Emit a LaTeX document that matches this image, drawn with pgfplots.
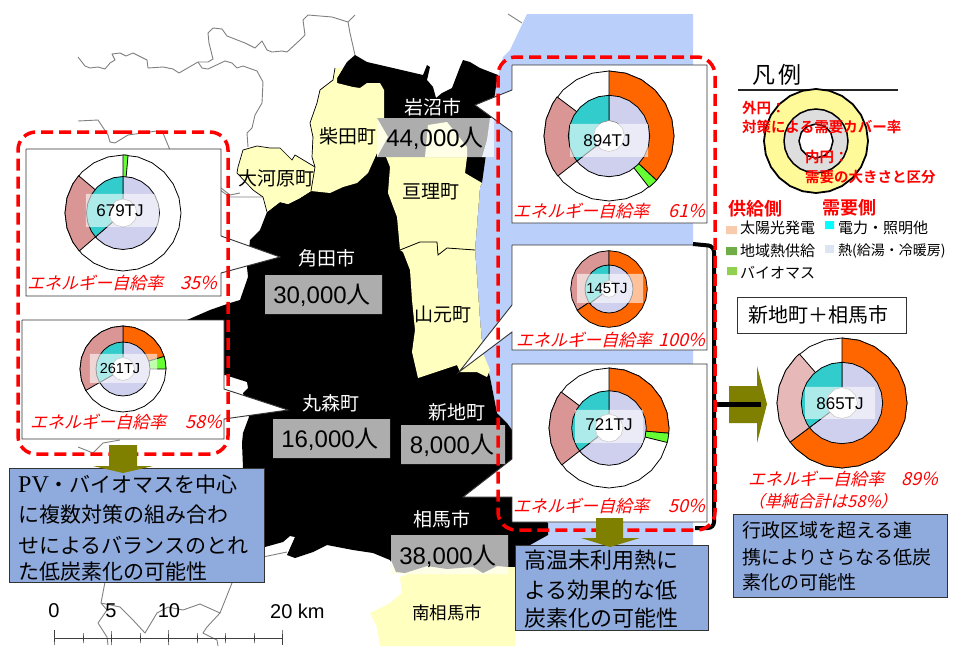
\documentclass[border=0pt]{standalone}
\usepackage{fontspec}
\usepackage{xcolor}
\usepackage{pgfplots}
\pgfplotsset{compat=1.18}
\setmainfont{Liberation Sans}
\newfontfamily\jp{Noto Sans CJK JP}
\newfontfamily\jpb{Noto Sans CJK JP Bold}
\newfontfamily\jpi[FakeSlant=0.25]{Noto Sans CJK JP}
\newfontfamily\pv{Liberation Serif}
\XeTeXlinebreaklocale "ja"
\XeTeXlinebreakskip=0pt plus 8pt minus 3pt
\newcommand{\fs}[1]{\fontsize{#1pt}{#1pt}\selectfont}
\newcommand{\fit}[2]{\makebox[#1pt][s]{#2}}
% red self-sufficiency caption: slanted kana part, then the percent
\newcommand{\rate}[3]{\textcolor{red}{\makebox[#1pt][l]{\jpi\fs{17}\fit{#2}{エネルギー自給率}\hfill\itshape\fs{18}#3}}}
\definecolor{sea}{HTML}{BBCFFB}
\definecolor{land}{HTML}{FFFFC0}
\definecolor{pale}{HTML}{FFFFE8}
\definecolor{tag}{HTML}{ADADAD}
\definecolor{note}{HTML}{8FAADC}
\definecolor{olive2}{HTML}{808000}
\definecolor{border}{HTML}{808080}
\definecolor{cOrange}{HTML}{FF6600}
\definecolor{cGreen}{HTML}{66FF33}
\definecolor{cPink}{HTML}{D99694}
\definecolor{cPink2}{HTML}{E6B9B8}
\definecolor{cTeal}{HTML}{33CCCC}
\definecolor{cLav}{HTML}{CFCFEE}
\definecolor{keySolar}{HTML}{F8CBAD}
\definecolor{keyDistrict}{HTML}{70AD47}
\definecolor{keyBio}{HTML}{92D050}
\definecolor{keyPower}{HTML}{00FFFF}
\definecolor{keyHeat}{HTML}{DCE6F2}
\pgfplotsset{
  scene/.style={at={(0pt,0pt)},anchor=south west,x=1pt,y=1pt,xmin=0,xmax=954,ymin=0,ymax=646,
    y dir=reverse,hide axis,clip=true},
  donut/.style n args={3}{at={(#1pt,{646pt-#2pt})},anchor=center,x=1pt,y=1pt,
    xmin=-#3,xmax=#3,ymin=-#3,ymax=#3,hide axis,clip=false},
  seg/.style={data cs=polar,fill=#1,draw=black,line width=0.8pt,line join=round},
  veil/.style={fill=white,fill opacity=0.6,draw=none},
  hole/.style={data cs=polar,fill=white,draw=gray,line width=0.6pt},
  shape/.style={fill=#1,draw=none},
  frame/.style={fill=#1,draw=black!80,line width=0.9pt,line join=miter},
  gline/.style={draw=border,line width=0.9pt,line join=round},
}
\begin{document}
\begin{tikzpicture}
\path[use as bounding box] (0pt,0pt) rectangle (954pt,646pt);
\begin{axis}[scene]
% thin gray boundaries outside the study area
\addplot[gline] coordinates {(78,57)(85,66)(90,68)(98,67)(105,69)(110,63)(115,60)(112,54)(120,53)(126,56)(133,53)(147,60)(148,68)(163,67)(173,69)(179,73)(198,62)(208,62)(213,59)(209,43)(208,33)(213,28)(222,29)(227,36)(245,43)(255,48)(262,41)(267,50)(272,52)(282,51)(287,52)(300,40)(305,35)(303,20)(308,15)(332,17)(348,22)(355,15)};
\addplot[gline] coordinates {(348,22)(350,33)(355,55)};
\addplot[gline] coordinates {(198,62)(202,68)(208,69)(225,61)(232,63)(237,68)(243,66)(257,71)(263,82)(262,103)(255,115)(252,128)(247,133)(248,147)};
\addplot[gline] coordinates {(78,121)(98,120)(108,135)(110,142)(115,143)(128,135)(157,131)(163,133)(170,150)};
\addplot[gline] coordinates {(508,14)(522,23)};
\addplot[gline] coordinates {(221,188)(230,195)(240,193)};
\addplot[gline] coordinates {(220,190)(230,197)(250,197)(263,197)};
\addplot[gline] coordinates {(78,447)(93,453)(103,443)(120,440)};
\addplot[gline] coordinates {(263,557)(287,552)};
\addplot[gline] coordinates {(105,582)(101,603)(107,610)(98,623)(107,637)(108,645)};
\addplot[gline] coordinates {(101,603)(120,607)(133,620)(145,633)(157,613)(168,607)(183,610)(200,604)(220,613)(232,583)};
\addplot[gline] coordinates {(220,613)(207,627)(203,633)(217,640)(218,646)};
% sea
\addplot[shape=sea] coordinates {(527,14)(693,14)(693,628)(510,628)(507,423)(497,413)(490,377)(483,353)(480,320)(475,250)(480,187)(487,147)(497,80)(503,57)(510,50)(527,14)};
% black municipalities
\addplot[shape=black] coordinates {(355,55)(367,62)(393,68)(423,75)(427,65)(430,67)(427,80)(433,87)(436,98)(442,93)(452,88)(460,67)(463,60)(470,62)(480,68)(498,75)(497,80)(487,147)(482,183)(480,187)(475,250)(480,320)(483,353)(490,377)(497,413)(507,423)(512,430)(512,497)(548,523)(548,535)(530,545)(515,567)(427,567)(410,573)(397,573)(390,560)(373,553)(353,550)(327,545)(313,552)(295,558)(287,555)(295,537)(290,536)(283,542)(265,547)(243,547)(243,468)(242,443)(243,433)(249,417)(243,393)(248,388)(247,382)(225,375)(187,380)(187,320)(210,310)(230,303)(240,300)(248,277)(247,267)(250,240)(260,230)(267,212)(280,202)(288,204)(300,198)(311,191)(315,167)(312,157)(313,137)(310,123)(317,103)(320,90)(333,80)(337,78)(347,62)(355,55)};
% yellow municipalities
\addplot[shape=land] coordinates {(335,68)(343,68)(337,78)(337,83)(353,87)(360,88)(367,83)(380,83)(384,90)(384,117)(386,137)(377,153)(368,173)(357,183)(343,187)(330,193)(311,191)(315,167)(312,157)(313,137)(310,123)(317,103)(320,90)(333,80)(335,68)};
\addplot[shape=land] coordinates {(238,167)(243,150)(257,146)(270,148)(280,148)(292,160)(295,155)(315,167)(311,191)(300,198)(288,204)(280,202)(267,212)(263,197)(253,190)(237,173)(238,167)};
\addplot[draw=black,line width=0.7pt] coordinates {(315,167)(295,155)(292,160)(280,148)(270,148)(257,146)(243,150)(238,167)(237,173)(253,190)(263,197)(267,212)};
\addplot[draw=black,line width=0.7pt] coordinates {(335,68)(333,80)(320,90)(317,103)(310,123)(313,137)(312,157)(315,167)(311,191)};
\addplot[shape=land] coordinates {(386,157)(390,167)(388,193)(397,217)(400,250)(420,242)(437,242)(438,255)(447,248)(475,250)(480,187)(482,183)(465,173)(467,157)(386,157)};
\addplot[shape=land] coordinates {(400,250)(420,242)(437,242)(438,255)(447,248)(475,250)(480,320)(483,353)(490,370)(487,377)(477,372)(460,372)(457,365)(418,378)(412,352)(415,330)(412,300)(410,270)(403,252)(400,250)};
\addplot[draw=black,line width=0.8pt] coordinates {(400,250)(420,242)(437,242)(438,255)(447,248)(475,250)};
\addplot[shape=land] coordinates {(400,577)(427,567)(447,570)(473,568)(483,573)(497,567)(515,567)(515,646)(380,646)(377,627)(370,613)(390,603)(402,593)(400,577)};
% population tags
\addplot[shape=tag] coordinates {(377,118)(494,118)(494,157)(377,157)(377,118)};
\addplot[shape=pale] coordinates {(377,118)(388,137)(377,157)(377,118)};
\addplot[shape=pale] coordinates {(425,157)(427,135)(428,125)(447,122)(467,147)(467,157)(425,157)};
\addplot[shape=sea!30!white] coordinates {(490,118)(494,118)(494,157)(482,157)(487,140)(490,118)};
\addplot[shape=tag] coordinates {(265,275)(382,275)(382,314)(265,314)(265,275)};
\addplot[shape=tag] coordinates {(273,419)(390,419)(390,458)(273,458)(273,419)};
\addplot[shape=tag] coordinates {(401,425)(505,425)(505,464)(401,464)(401,425)};
\addplot[shape=pale] coordinates {(391,560)(508,560)(508,574)(391,574)(391,560)};
\addplot[shape=tag] coordinates {(391,535)(508,535)(508,567)(497,566)(483,573)(473,567)(447,569)(427,566)(405,573)(396,572)(391,560)(391,535)};
% town names
\node[text=white] at (433,107) {\jp\fs{19}岩沼市};
\node at (348,136) {\jp\fs{19}柴田町};
\node at (276,178) {\jp\fs{19}大河原町};
\node at (431,192) {\jp\fs{19}亘理町};
\node[text=white] at (327,258) {\jp\fs{19}角田市};
\node at (443,314) {\jp\fs{19}山元町};
\node[text=white] at (331,403) {\jp\fs{19}丸森町};
\node[text=white] at (457,412) {\jp\fs{19}新地町};
\node[text=white] at (442,519) {\jp\fs{19}相馬市};
\node at (447,613) {\jp\fs{17.5}南相馬市};
\node at (435,138) {\fs{24}44,000{\jp\fs{24}人}};
\node at (322,295) {\fs{24}30,000{\jp\fs{24}人}};
\node at (330,439) {\fs{24}16,000{\jp\fs{24}人}};
\node at (452,445) {\fs{24}8,000{\jp\fs{24}人}};
\node at (448,556) {\fs{24}38,000{\jp\fs{24}人}};
% scale bar
\addplot[draw=black!75,line width=0.8pt] coordinates {(54,630)(54,645)(54,638)(83,638)(83,633)(83,643)(83,638)(111,638)(111,631)(111,645)(111,638)(140,638)(140,633)(140,643)(140,638)(168,638)(168,630)(168,645)(168,638)(197,638)(197,633)(197,643)(197,638)(225,638)(225,633)(225,643)(225,638)(254,638)(254,633)(254,643)(254,638)(282,638)(282,630)(282,645)};
\node at (54,611) {\fs{20}0};
\node at (111,611) {\fs{20}5};
\node at (169,611) {\fs{20}10};
\node[anchor=west,inner sep=0pt] at (270,611) {\fs{20}20 km};
% callout frames
\addplot[frame=white] coordinates {(26,149)(221,149)(221,236)(280,257)(221,273)(221,296)(26,296)(26,149)};
\addplot[frame=white] coordinates {(22,320)(224,320)(224,389)(288,410)(224,419)(224,439)(22,439)(22,320)};
\addplot[frame=white] coordinates {(512,65)(707,65)(707,223)(512,223)(512,132)(475,105)(512,90)(512,65)};
\addplot[frame=white] coordinates {(512,245)(707,245)(707,350)(512,350)(512,332)(459,372)(512,305)(512,245)};
\addplot[frame=white] coordinates {(512,364)(707,364)(707,522)(512,522)(512,497)(463,497)(512,459)(512,364)};
\node[anchor=west,inner sep=0pt] at (27,283) {\rate{190}{140}{35\%}};
\node[anchor=west,inner sep=0pt] at (30,422) {\rate{192}{140}{58\%}};
\node[anchor=west,inner sep=0pt] at (513,211) {\rate{192}{140}{61\%}};
\node[anchor=west,inner sep=0pt] at (516,340) {\rate{189}{140}{100\%}};
\node[anchor=west,inner sep=0pt] at (513,506) {\rate{192}{140}{50\%}};
% black link to the merged donut
\addplot[draw=black,line width=4pt,rounded corners=6pt] coordinates {(693,244)(714,246)(714,528)(695,528)};
\addplot[shape=olive2] coordinates {(729,386)(757,386)(757,366)(767,404)(757,443)(757,423)(729,423)(729,386)};
\addplot[draw=black,line width=5pt] coordinates {(714,404)(761,404)};
% red dashed groups
\addplot[draw=red,line width=3.5pt,rounded corners=18pt,dash pattern=on 12pt off 6pt] coordinates {(120,132)(228,132)(228,454)(18,454)(18,132)(120,132)};
\addplot[draw=red,line width=3.5pt,rounded corners=18pt,dash pattern=on 12pt off 6pt] coordinates {(600,57)(715,57)(715,530)(498,530)(498,57)(600,57)};
% blue notes
\addplot[frame=note] coordinates {(9,468)(264,468)(264,582)(9,582)(9,468)};
\addplot[frame=note] coordinates {(515,545)(708,545)(708,630)(515,630)(515,545)};
\addplot[frame=note] coordinates {(733,514)(947,514)(947,597)(733,597)(733,514)};
\addplot[shape=olive2] coordinates {(109,445)(137,445)(137,466)(153,466)(123,473)(93,466)(109,466)(109,445)};
\addplot[shape=olive2] coordinates {(596,518)(623,518)(623,538)(640,538)(610,547)(581,538)(596,538)(596,518)};
\node[anchor=west,inner sep=0pt] at (18,485) {\fs{21}\jp\fit{237}{{\pv\fs{24}PV}・バイオマスを中心}};
\node[anchor=west,inner sep=0pt] at (18,515) {\fs{21}\jp\fit{237}{に複数対策の組み合わ}};
\node[anchor=west,inner sep=0pt] at (18,545) {\fs{21}\jp\fit{237}{せによるバランスのとれ}};
\node[anchor=west,inner sep=0pt] at (18,572) {\fs{21}\jp\fit{210}{た低炭素化の可能性}};
\node[anchor=west,inner sep=0pt] at (524,560) {\fs{22}\jp\fit{178}{高温未利用熱に}};
\node[anchor=west,inner sep=0pt] at (524,590) {\fs{22}\jp\fit{178}{よる効果的な低}};
\node[anchor=west,inner sep=0pt] at (524,618) {\fs{22}\jp\fit{178}{炭素化の可能性}};
\node[anchor=west,inner sep=0pt] at (742,530) {\fs{19}\jp\fit{180}{行政区域を超える連}};
\node[anchor=west,inner sep=0pt] at (742,557) {\fs{19}\jp\fit{185}{携によりさらなる低炭}};
\node[anchor=west,inner sep=0pt] at (742,582) {\fs{19}\jp\fit{125}{素化の可能性}};
% merged-area caption and title
\addplot[frame=white] coordinates {(737,297)(906,297)(906,333)(737,333)(737,297)};
\node at (821,315) {\jp\fs{20}\fit{145}{新地町＋相馬市}};
\node[anchor=west,inner sep=0pt] at (748,479) {\rate{190}{140}{89\%}};
\node[anchor=west,inner sep=0pt] at (748,501) {\textcolor{red}{\jpi\fs{16.5}（単純合計は58\%）}};
% legend
\node at (777,75) {\jp\fs{23}\fit{50}{凡\hfill 例}};
\addplot[draw=black!85,line width=2pt] coordinates {(738,90)(898,90)};
\addplot[shape=keySolar] coordinates {(726,226)(737,226)(737,234)(726,234)(726,226)};
\addplot[shape=keyDistrict] coordinates {(726,247)(737,247)(737,255)(726,255)(726,247)};
\addplot[shape=keyBio] coordinates {(727,267)(737,267)(737,275)(727,275)(727,267)};
\addplot[shape=keyPower] coordinates {(825,221)(834,221)(834,229)(825,229)(825,221)};
\addplot[shape=keyHeat] coordinates {(825,245)(834,245)(834,253)(825,253)(825,245)};
\node[anchor=west,inner sep=0pt] at (740,228) {\jp\fs{15}\fit{78}{太陽光発電}};
\node[anchor=west,inner sep=0pt] at (740,251) {\jp\fs{15}\fit{78}{地域熱供給}};
\node[anchor=west,inner sep=0pt] at (740,273) {\jp\fs{15}\fit{71}{バイオマス}};
\node[anchor=west,inner sep=0pt] at (838,228) {\jp\fs{15}\fit{85}{電力・照明他}};
\node[anchor=west,inner sep=0pt] at (838,251) {\jp\fs{14}\makebox[115pt][l]{熱(給湯・冷暖房)}};
\end{axis}
% donut 679 TJ
\begin{axis}[donut={123}{213}{58}]
\addplot[seg=white] coordinates {(0,58)(15,58)(30,58)(45,58)(60,58)(75,58)(90,58)(105,58)(120,58)(135,58)(150,58)(165,58)(180,58)(195,58)(210,58)(225,58)(240,58)(255,58)(270,58)(285,58)(300,58)(315,58)(330,58)(345,58)(360,58)};
\addplot[seg=cGreen] coordinates {(0,0)(90,58)(85,58)(0,0)};
\addplot[seg=cPink] coordinates {(0,0)(-139,58)(-150,58)(-165,58)(-180,58)(-195,58)(-210,58)(-220,58)(0,0)};
\addplot[seg=cLav] coordinates {(0,0)(90,36.5)(75,36.5)(60,36.5)(45,36.5)(30,36.5)(15,36.5)(0,36.5)(-15,36.5)(-30,36.5)(-45,36.5)(-60,36.5)(-75,36.5)(-90,36.5)(-105,36.5)(-120,36.5)(-135,36.5)(-139,36.5)(0,0)};
\addplot[seg=cTeal] coordinates {(0,0)(-139,36.5)(-150,36.5)(-165,36.5)(-180,36.5)(-195,36.5)(-210,36.5)(-225,36.5)(-240,36.5)(-255,36.5)(-270,36.5)(0,0)};
\addplot[hole] coordinates {(0,14)(30,14)(60,14)(90,14)(120,14)(150,14)(180,14)(210,14)(240,14)(270,14)(300,14)(330,14)(360,14)};
\addplot[veil] coordinates {(-37,19)(36,19)(36,-14)(-37,-14)(-37,19)};
\node at (-3,2) {\fs{17}679TJ};
\end{axis}
% donut 261 TJ
\begin{axis}[donut={123}{369}{43}]
\addplot[seg=white] coordinates {(0,43)(15,43)(30,43)(45,43)(60,43)(75,43)(90,43)(105,43)(120,43)(135,43)(150,43)(165,43)(180,43)(195,43)(210,43)(225,43)(240,43)(255,43)(270,43)(285,43)(300,43)(315,43)(330,43)(345,43)(360,43)};
\addplot[seg=cOrange] coordinates {(0,0)(90,43)(75,43)(60,43)(45,43)(30,43)(17,43)(0,0)};
\addplot[seg=cGreen] coordinates {(0,0)(17,43)(8,43)(0,43)(0,0)};
\addplot[seg=cPink] coordinates {(0,0)(-150,43)(-165,43)(-180,43)(-195,43)(-210,43)(-225,43)(-240,43)(-255,43)(-270,43)(0,0)};
\addplot[seg=cLav] coordinates {(0,0)(90,27)(75,27)(60,27)(45,27)(30,27)(15,27)(0,27)(-15,27)(-30,27)(-45,27)(-60,27)(-75,27)(-90,27)(-105,27)(-120,27)(-135,27)(-150,27)(0,0)};
\addplot[seg=cTeal] coordinates {(0,0)(-150,27)(-165,27)(-180,27)(-195,27)(-210,27)(-225,27)(-240,27)(-255,27)(-270,27)(0,0)};
\addplot[hole] coordinates {(0,11.5)(30,11.5)(60,11.5)(90,11.5)(120,11.5)(150,11.5)(180,11.5)(210,11.5)(240,11.5)(270,11.5)(300,11.5)(330,11.5)(360,11.5)};
\addplot[veil] coordinates {(-33,15)(34,15)(34,-14)(-33,-14)(-33,15)};
\node at (-3,0) {\fs{14.5}261TJ};
\end{axis}
% donut 894 TJ
\begin{axis}[donut={609}{136}{65}]
\addplot[seg=white] coordinates {(0,65)(15,65)(30,65)(45,65)(60,65)(75,65)(90,65)(105,65)(120,65)(135,65)(150,65)(165,65)(180,65)(195,65)(210,65)(225,65)(240,65)(255,65)(270,65)(285,65)(300,65)(315,65)(330,65)(345,65)(360,65)};
\addplot[seg=cOrange] coordinates {(0,0)(90,65)(75,65)(60,65)(45,65)(30,65)(15,65)(0,65)(-15,65)(-30,65)(-43,65)(0,0)};
\addplot[seg=cGreen] coordinates {(0,0)(-43,65)(-48,65)(-52,65)(0,0)};
\addplot[seg=cPink] coordinates {(0,0)(-142,65)(-150,65)(-165,65)(-180,65)(-195,65)(-210,65)(-217,65)(0,0)};
\addplot[seg=cLav] coordinates {(0,0)(90,40.7)(75,40.7)(60,40.7)(45,40.7)(30,40.7)(15,40.7)(0,40.7)(-15,40.7)(-30,40.7)(-45,40.7)(-60,40.7)(-75,40.7)(-90,40.7)(-105,40.7)(-120,40.7)(-135,40.7)(-142,40.7)(0,0)};
\addplot[seg=cTeal] coordinates {(0,0)(-142,40.7)(-150,40.7)(-165,40.7)(-180,40.7)(-195,40.7)(-210,40.7)(-225,40.7)(-240,40.7)(-255,40.7)(-270,40.7)(0,0)};
\addplot[hole] coordinates {(0,15.5)(30,15.5)(60,15.5)(90,15.5)(120,15.5)(150,15.5)(180,15.5)(210,15.5)(240,15.5)(270,15.5)(300,15.5)(330,15.5)(360,15.5)};
\addplot[veil] coordinates {(-39,12)(39,12)(39,-21)(-39,-21)(-39,12)};
\node at (-2,-5) {\fs{17}894TJ};
\end{axis}
% donut 145 TJ
\begin{axis}[donut={609}{289}{38.3}]
\addplot[seg=cPink] coordinates {(0,0)(-146,38.3)(-165,38.3)(-180,38.3)(-195,38.3)(-210,38.3)(-225,38.3)(-240,38.3)(-255,38.3)(-270,38.3)(0,0)};
\addplot[seg=cOrange] coordinates {(0,0)(90,38.3)(75,38.3)(60,38.3)(45,38.3)(30,38.3)(15,38.3)(0,38.3)(-15,38.3)(-30,38.3)(-45,38.3)(-60,38.3)(-75,38.3)(-90,38.3)(-105,38.3)(-120,38.3)(-135,38.3)(-146,38.3)(0,0)};
\addplot[seg=cLav] coordinates {(0,0)(90,24)(75,24)(60,24)(45,24)(30,24)(15,24)(0,24)(-15,24)(-30,24)(-45,24)(-60,24)(-75,24)(-90,24)(-105,24)(-120,24)(-135,24)(-143,24)(0,0)};
\addplot[seg=cTeal] coordinates {(0,0)(-143,24)(-150,24)(-165,24)(-180,24)(-195,24)(-210,24)(-225,24)(-240,24)(-255,24)(-270,24)(0,0)};
\addplot[hole] coordinates {(0,8.3)(30,8.3)(60,8.3)(90,8.3)(120,8.3)(150,8.3)(180,8.3)(210,8.3)(240,8.3)(270,8.3)(300,8.3)(330,8.3)(360,8.3)};
\addplot[veil] coordinates {(-32,15)(34,15)(34,-14)(-32,-14)(-32,15)};
\node at (-2,1) {\fs{14.8}145TJ};
\end{axis}
% donut 721 TJ
\begin{axis}[donut={609}{428}{60}]
\addplot[seg=white] coordinates {(0,60)(15,60)(30,60)(45,60)(60,60)(75,60)(90,60)(105,60)(120,60)(135,60)(150,60)(165,60)(180,60)(195,60)(210,60)(225,60)(240,60)(255,60)(270,60)(285,60)(300,60)(315,60)(330,60)(345,60)(360,60)};
\addplot[seg=cOrange] coordinates {(0,0)(90,60)(75,60)(60,60)(45,60)(30,60)(15,60)(0,60)(-5,60)(0,0)};
\addplot[seg=cGreen] coordinates {(0,0)(-5,60)(-10,60)(-14,60)(0,0)};
\addplot[seg=cPink] coordinates {(0,0)(-142,60)(-150,60)(-165,60)(-180,60)(-195,60)(-210,60)(-217,60)(0,0)};
\addplot[seg=cLav] coordinates {(0,0)(90,37.3)(75,37.3)(60,37.3)(45,37.3)(30,37.3)(15,37.3)(0,37.3)(-15,37.3)(-30,37.3)(-45,37.3)(-60,37.3)(-75,37.3)(-90,37.3)(-105,37.3)(-120,37.3)(-135,37.3)(-142,37.3)(0,0)};
\addplot[seg=cTeal] coordinates {(0,0)(-142,37.3)(-150,37.3)(-165,37.3)(-180,37.3)(-195,37.3)(-210,37.3)(-225,37.3)(-240,37.3)(-255,37.3)(-270,37.3)(0,0)};
\addplot[hole] coordinates {(0,14)(30,14)(60,14)(90,14)(120,14)(150,14)(180,14)(210,14)(240,14)(270,14)(300,14)(330,14)(360,14)};
\addplot[veil] coordinates {(-34,18)(34,18)(34,-15)(-34,-15)(-34,18)};
\node at (0,3) {\fs{17}721TJ};
\end{axis}
% donut 865 TJ (merged)
\begin{axis}[donut={842}{403}{65}]
\addplot[seg=white] coordinates {(0,65)(15,65)(30,65)(45,65)(60,65)(75,65)(90,65)(105,65)(120,65)(135,65)(150,65)(165,65)(180,65)(195,65)(210,65)(225,65)(240,65)(255,65)(270,65)(285,65)(300,65)(315,65)(330,65)(345,65)(360,65)};
\addplot[seg=cOrange] coordinates {(0,0)(90,65)(75,65)(60,65)(45,65)(30,65)(15,65)(0,65)(-15,65)(-30,65)(-45,65)(-60,65)(-75,65)(-90,65)(-105,65)(-120,65)(-135,65)(-143,65)(0,0)};
\addplot[seg=cPink2] coordinates {(0,0)(-143,65)(-150,65)(-165,65)(-180,65)(-195,65)(-210,65)(-225,65)(-229,65)(0,0)};
\addplot[seg=cLav] coordinates {(0,0)(90,40.7)(75,40.7)(60,40.7)(45,40.7)(30,40.7)(15,40.7)(0,40.7)(-15,40.7)(-30,40.7)(-45,40.7)(-60,40.7)(-75,40.7)(-90,40.7)(-105,40.7)(-120,40.7)(-135,40.7)(-143,40.7)(0,0)};
\addplot[seg=cTeal] coordinates {(0,0)(-143,40.7)(-150,40.7)(-165,40.7)(-180,40.7)(-195,40.7)(-210,40.7)(-225,40.7)(-240,40.7)(-255,40.7)(-270,40.7)(0,0)};
\addplot[hole] coordinates {(0,15.5)(30,15.5)(60,15.5)(90,15.5)(120,15.5)(150,15.5)(180,15.5)(210,15.5)(240,15.5)(270,15.5)(300,15.5)(330,15.5)(360,15.5)};
\addplot[veil] coordinates {(-37,16)(33,16)(33,-16)(-37,-16)(-37,16)};
\node at (-2,-1) {\fs{17}865TJ};
\end{axis}
% legend donut
\begin{axis}[donut={816}{141}{52}]
\addplot[seg=yellow!40!white,line width=1.8pt] coordinates {(0,52)(15,52)(30,52)(45,52)(60,52)(75,52)(90,52)(105,52)(120,52)(135,52)(150,52)(165,52)(180,52)(195,52)(210,52)(225,52)(240,52)(255,52)(270,52)(285,52)(300,52)(315,52)(330,52)(345,52)(360,52)};
\addplot[seg=black!13,line width=1.5pt] coordinates {(0,32)(15,32)(30,32)(45,32)(60,32)(75,32)(90,32)(105,32)(120,32)(135,32)(150,32)(165,32)(180,32)(195,32)(210,32)(225,32)(240,32)(255,32)(270,32)(285,32)(300,32)(315,32)(330,32)(345,32)(360,32)};
\addplot[seg=white,line width=1.5pt] coordinates {(0,17)(30,17)(60,17)(90,17)(120,17)(150,17)(180,17)(210,17)(240,17)(270,17)(300,17)(330,17)(360,17)};
\end{axis}
% red legend text on top of everything
\begin{axis}[scene]
\node[anchor=west,inner sep=0pt,text=red] at (742,108) {\jpb\fs{14.5}外円：};
\node[anchor=west,inner sep=0pt,text=red] at (742,127) {\jpb\fs{14.5}\fit{167}{対策による需要カバー率}};
\node[anchor=west,inner sep=0pt,text=red] at (805,157) {\jpb\fs{14.5}内円：};
\node[anchor=west,inner sep=0pt,text=red] at (805,177) {\jpb\fs{14.5}\fit{132}{需要の大きさと区分}};
\node[anchor=west,inner sep=0pt,text=red] at (728,209) {\jpb\fs{18}供給側};
\node[anchor=west,inner sep=0pt,text=red] at (822,208) {\jpb\fs{18}需要側};
\end{axis}
\end{tikzpicture}
\end{document}
